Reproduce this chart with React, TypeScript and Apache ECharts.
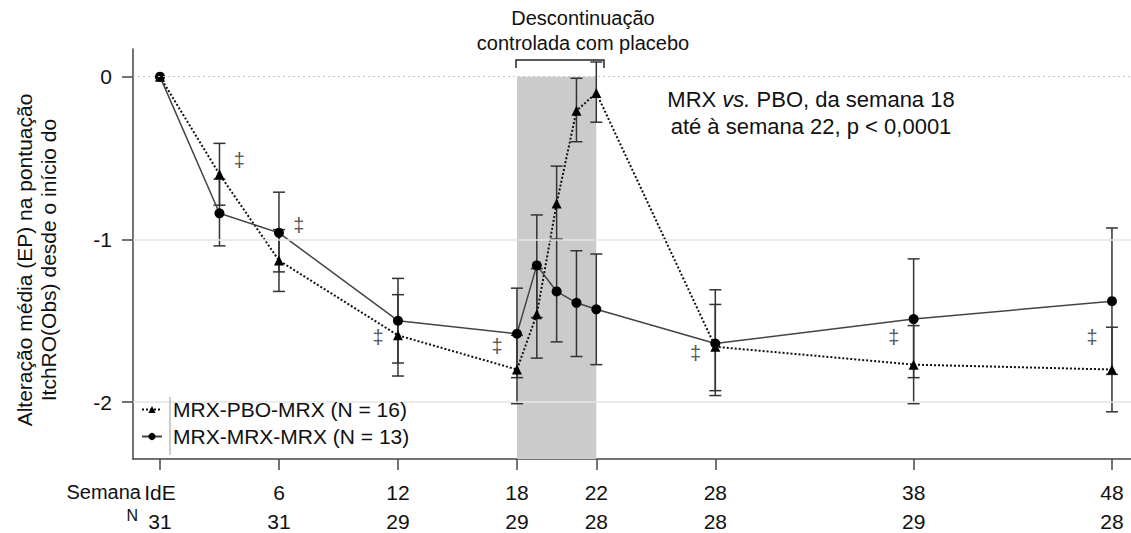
import React, { useEffect, useRef } from "react";
import * as echarts from "echarts";

const FONT = "'Liberation Sans', Arial, sans-serif";

// Data
const weeks = [0, 3, 6, 12, 18, 19, 20, 21, 22, 28, 38, 48];
const pboMean = [0, -0.6, -1.13, -1.59, -1.8, -1.46, -0.78, -0.21, -0.1, -1.66, -1.77, -1.8];
const pboLow = [null, -0.79, -1.32, -1.84, -2.01, -1.73, -1.0, -0.4, -0.28, -1.93, -2.01, -2.06];
const pboHigh = [null, -0.41, -0.94, -1.34, -1.59, -1.18, -0.55, -0.01, 0.09, -1.4, -1.53, -1.54];
const mrxMean = [0, -0.84, -0.96, -1.5, -1.58, -1.16, -1.32, -1.39, -1.43, -1.64, -1.49, -1.38];
const mrxLow = [null, -1.04, -1.2, -1.76, -1.85, -1.48, -1.63, -1.72, -1.77, -1.96, -1.85, -1.83];
const mrxHigh = [null, -0.63, -0.71, -1.24, -1.3, -0.85, -1.0, -1.07, -1.09, -1.31, -1.12, -0.93];

const tickWeeks = [0, 6, 12, 18, 22, 28, 38, 48];
const tickLabels = ["IdE", "6", "12", "18", "22", "28", "38", "48"];
const nLabels = ["31", "31", "29", "29", "28", "28", "29", "28"];
const yTicks = [0, -1, -2];

const daggerX = [4, 7, 11, 17, 27, 37, 47];
const daggerY = [-0.51, -0.91, -1.6, -1.655, -1.7, -1.6, -1.6];

const seriesNames = ["MRX-PBO-MRX (N = 16)", "MRX-MRX-MRX (N = 13)"];

function errData(low: (number | null)[], high: (number | null)[]) {
  const out: number[][] = [];
  weeks.forEach((w, i) => {
    if (low[i] != null && high[i] != null) out.push([w, low[i] as number, high[i] as number]);
  });
  return out;
}

function errRender(params: any, api: any) {
  const x = api.value(0);
  const lo = api.coord([x, api.value(1)]);
  const hi = api.coord([x, api.value(2)]);
  const w = 6;
  const style = { stroke: "#333", lineWidth: 1.5 };
  return {
    type: "group",
    children: [
      { type: "line", shape: { x1: lo[0], y1: lo[1], x2: hi[0], y2: hi[1] }, style },
      { type: "line", shape: { x1: lo[0] - w, y1: lo[1], x2: lo[0] + w, y2: lo[1] }, style },
      { type: "line", shape: { x1: hi[0] - w, y1: hi[1], x2: hi[0] + w, y2: hi[1] }, style },
    ],
  };
}

function daggerRender(params: any, api: any) {
  const p = api.coord([api.value(0), api.value(1)]);
  return {
    type: "text",
    x: p[0],
    y: p[1],
    style: {
      text: "‡",
      align: "center",
      verticalAlign: "middle",
      fontSize: 20,
      fontFamily: FONT,
      fill: "#555",
    },
  };
}

export default function App() {
  const ref = useRef<HTMLDivElement>(null);
  useEffect(() => {
    if (!ref.current) return;
    const chart = echarts.init(ref.current, undefined, { renderer: "svg" });
    const option: any = {
      animation: false,
      backgroundColor: "#fff",
      textStyle: { fontFamily: FONT },
      grid: { left: 133, right: 0, top: 49, bottom: 74 },
      xAxis: {
        type: "value",
        min: -1.36,
        max: 48.96,
        axisLine: { onZero: false, lineStyle: { color: "#444", width: 1.5 } },
        axisTick: { customValues: tickWeeks, length: 11, lineStyle: { color: "#444", width: 1.5 } },
        axisLabel: {
          customValues: tickWeeks,
          margin: 19,
          formatter: (v: number) => {
            const i = tickWeeks.indexOf(v);
            return `{w|${tickLabels[i]}}\n{n|${nLabels[i]}}`;
          },
          rich: {
            w: { fontSize: 21, lineHeight: 29, color: "#111", fontFamily: FONT },
            n: { fontSize: 21, lineHeight: 29, color: "#111", fontFamily: FONT },
          },
        },
        splitLine: { show: false },
      },
      yAxis: {
        type: "value",
        min: -2.35,
        max: 0.17,
        axisLine: { show: true, onZero: false, lineStyle: { color: "#444", width: 1.5 } },
        axisTick: { show: true, customValues: yTicks, length: 11, lineStyle: { color: "#444", width: 1.5 } },
        axisLabel: { customValues: yTicks, fontSize: 21, margin: 21, color: "#111", fontFamily: FONT },
        splitLine: { show: false },
      },
      legend: {
        data: seriesNames,
        orient: "vertical",
        left: 141,
        top: 399,
        itemWidth: 20,
        itemHeight: 9,
        itemGap: 6,
        padding: 0,
        textStyle: { fontSize: 21, color: "#111", fontFamily: FONT, padding: [0, 0, 0, 6] },
        z: 10,
      },
      graphic: [
        { type: "rect", left: 135, top: 394, shape: { width: 358, height: 64 }, style: { fill: "#fff" }, z: 5 },
        { type: "line", shape: { x1: 170, y1: 397, x2: 170, y2: 455 }, style: { stroke: "#999", lineWidth: 1 }, z: 11 },
        {
          type: "text",
          x: 583,
          y: 30,
          style: {
            text: "Descontinuação\ncontrolada com placebo",
            align: "center",
            verticalAlign: "middle",
            fontSize: 20,
            lineHeight: 25,
            fontFamily: FONT,
            fill: "#111",
          },
        },
        {
          type: "polyline",
          shape: { points: [[516, 68], [516, 60], [604, 60], [604, 68]] },
          style: { stroke: "#222", lineWidth: 1.5, fill: null },
        },
        {
          type: "text",
          x: 811,
          y: 113,
          style: {
            text: "MRX {i|vs.} PBO, da semana 18\naté à semana 22, p < 0,0001",
            rich: { i: { fontStyle: "italic", fontSize: 22, fontFamily: FONT, fill: "#111" } },
            align: "center",
            verticalAlign: "middle",
            fontSize: 22,
            lineHeight: 27,
            fontFamily: FONT,
            fill: "#111",
          },
        },
        {
          type: "text",
          x: 36,
          y: 260,
          rotation: Math.PI / 2,
          style: {
            text: "Alteração média (EP) na pontuação\nItchRO(Obs) desde o início do",
            align: "center",
            verticalAlign: "middle",
            fontSize: 21,
            lineHeight: 24,
            fontFamily: FONT,
            fill: "#111",
          },
        },
        {
          type: "text",
          x: 141,
          y: 492,
          style: { text: "Semana", align: "right", verticalAlign: "middle", fontSize: 20, fontFamily: FONT, fill: "#111" },
        },
        {
          type: "text",
          x: 138,
          y: 515,
          style: { text: "N", align: "right", verticalAlign: "middle", fontSize: 16, fontFamily: FONT, fill: "#111" },
        },
      ],
      series: [
        {
          name: "gridlines",
          type: "line",
          data: [],
          z: 1,
          silent: true,
          markLine: {
            silent: true,
            symbol: "none",
            label: { show: false },
            data: [
              { yAxis: 0, lineStyle: { color: "#c4c4c4", type: [2, 3], width: 1.2 } },
              { yAxis: -1, lineStyle: { color: "#e4e4e4", type: "solid", width: 1.5 } },
              { yAxis: -2, lineStyle: { color: "#e4e4e4", type: "solid", width: 1.5 } },
            ],
          },
        },
        {
          name: "band",
          type: "line",
          data: [],
          z: 1.5,
          silent: true,
          markArea: {
            silent: true,
            itemStyle: { color: "#cbcbcb", opacity: 1 },
            data: [[{ xAxis: 18, yAxis: 0 }, { xAxis: 22, yAxis: -2.35 }]],
          },
        },
        {
          name: "errPbo",
          type: "custom",
          z: 2,
          renderItem: errRender,
          encode: { x: 0, y: [1, 2] },
          data: errData(pboLow, pboHigh),
        },
        {
          name: "errMrx",
          type: "custom",
          z: 2,
          renderItem: errRender,
          encode: { x: 0, y: [1, 2] },
          data: errData(mrxLow, mrxHigh),
        },
        {
          name: seriesNames[0],
          type: "line",
          z: 3,
          data: weeks.map((w, i) => [w, pboMean[i]]),
          symbol: "triangle",
          symbolSize: 10,
          showSymbol: true,
          itemStyle: { color: "#000" },
          lineStyle: { color: "#111", width: 2, type: [2, 2] },
        },
        {
          name: seriesNames[1],
          type: "line",
          z: 3,
          data: weeks.map((w, i) => [w, mrxMean[i]]),
          symbol: "circle",
          symbolSize: 10,
          showSymbol: true,
          itemStyle: { color: "#000" },
          lineStyle: { color: "#444", width: 1.5, type: "solid" },
        },
        {
          name: "dagger",
          type: "custom",
          z: 3,
          renderItem: daggerRender,
          encode: { x: 0, y: 1 },
          data: daggerX.map((x, i) => [x, daggerY[i]]),
        },
      ],
    };
    chart.setOption(option);
    return () => chart.dispose();
  }, []);
  return (
    <div
      ref={ref}
      style={{ position: "fixed", left: 0, top: 0, width: 1131, height: 533, background: "#fff" }}
    />
  );
}
